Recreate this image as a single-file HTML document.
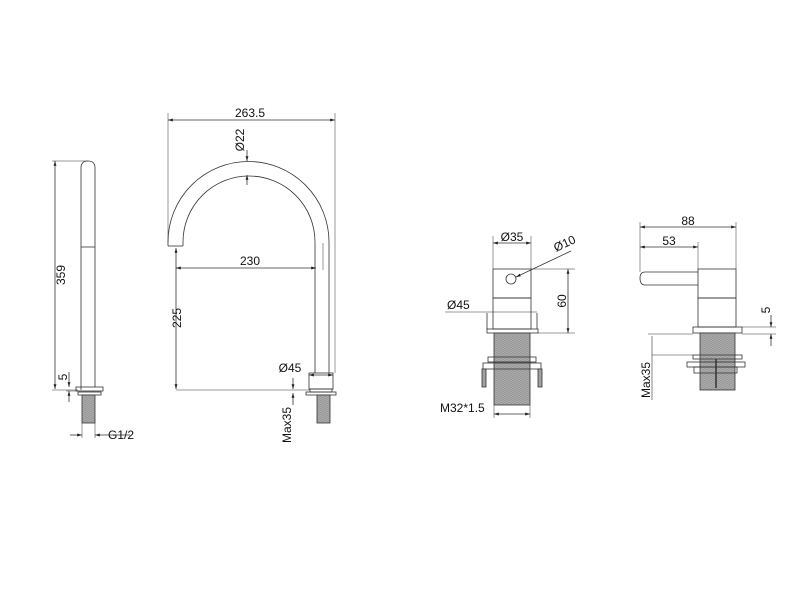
<!DOCTYPE html>
<html><head><style>body{margin:0;background:#fff}svg{display:block}text{font-family:"Liberation Sans",sans-serif;font-size:12px;fill:#111}</style></head>
<body>
<svg width="800" height="611" viewBox="0 0 800 611" xmlns="http://www.w3.org/2000/svg">
<defs>
<marker id="a" viewBox="0 0 10 10" refX="10" refY="5" markerWidth="6" markerHeight="6" orient="auto-start-reverse"><path d="M0,2 L10,5 L0,8z" fill="#222"/></marker>
<pattern id="th" width="4" height="2" patternUnits="userSpaceOnUse"><rect width="4" height="2" fill="#aaa"/><line x1="0" y1="0.5" x2="4" y2="1.5" stroke="#888" stroke-width="0.6"/></pattern>
</defs>
<g fill="none" stroke="#333" stroke-width="0.8">
<path d="M81,390 V168 Q81,161 88,161 Q95,161 95,168 V387"/>
<line x1="81" y1="247" x2="95" y2="247"/>
<rect x="76" y="387" width="27" height="4"/>
<rect x="78" y="392" width="23" height="3"/>
<rect x="82" y="395" width="13" height="28" fill="url(#th)"/>
<line x1="55" y1="161" x2="55" y2="389" marker-start="url(#a)" marker-end="url(#a)"/>
<line x1="52" y1="161" x2="88" y2="161" stroke-width="0.5"/>
<line x1="52" y1="390" x2="78" y2="390" stroke-width="0.5"/>
<line x1="69" y1="372" x2="69" y2="387" marker-end="url(#a)"/>
<line x1="69" y1="402" x2="69" y2="391" marker-end="url(#a)"/>
<line x1="66" y1="391" x2="78" y2="391" stroke-width="0.5"/>
<line x1="70" y1="435" x2="82" y2="435" marker-end="url(#a)"/>
<line x1="130" y1="435" x2="95" y2="435" marker-end="url(#a)"/>
<line x1="82" y1="423" x2="82" y2="438" stroke-width="0.5"/>
<line x1="95" y1="423" x2="95" y2="438" stroke-width="0.5"/>
<path d="M168,246 V242 A80.5,80.5 0 0 1 329,242 V373"/>
<path d="M183,246 V242 A66,66 0 0 1 315,242 V373"/>
<line x1="168" y1="246" x2="183" y2="246"/>
<rect x="309" y="373" width="24" height="16"/>
<rect x="310" y="389" width="22" height="3"/>
<rect x="306" y="392" width="30" height="3"/>
<rect x="317" y="395" width="13" height="28" fill="url(#th)"/>
<line x1="168" y1="113" x2="168" y2="242" stroke-width="0.5"/>
<line x1="335" y1="113" x2="335" y2="373" stroke-width="0.5"/>
<line x1="168" y1="120" x2="335" y2="120" marker-start="url(#a)" marker-end="url(#a)"/>
<line x1="247" y1="150" x2="247" y2="161" marker-end="url(#a)"/>
<line x1="247" y1="185" x2="247" y2="175" marker-end="url(#a)"/>
<line x1="176" y1="268" x2="316" y2="268" marker-start="url(#a)" marker-end="url(#a)"/>
<line x1="323" y1="243" x2="323" y2="270" stroke-width="0.5"/>
<line x1="176" y1="248" x2="176" y2="389" marker-start="url(#a)" marker-end="url(#a)"/>
<line x1="176" y1="390" x2="310" y2="390" stroke-width="0.5"/>
<line x1="309" y1="375" x2="333" y2="375" marker-start="url(#a)" marker-end="url(#a)"/>
<line x1="293" y1="378" x2="293" y2="389" marker-end="url(#a)"/>
<line x1="293" y1="405" x2="293" y2="393" marker-end="url(#a)"/>
<rect x="493" y="269" width="38" height="29"/>
<rect x="493" y="298" width="38" height="31"/>
<circle cx="511" cy="279" r="5"/>
<path d="M487,313 V329 M537,313 V329"/>
<rect x="487" y="329" width="51" height="4"/>
<rect x="494" y="333" width="36" height="72" fill="url(#th)"/>
<rect x="488" y="357" width="48" height="5"/>
<rect x="483" y="363" width="58" height="6"/>
<rect x="482" y="369" width="4" height="18" fill="url(#th)"/>
<rect x="538" y="369" width="4" height="18" fill="url(#th)"/>
<line x1="493" y1="236" x2="493" y2="269" stroke-width="0.5"/>
<line x1="531" y1="236" x2="531" y2="269" stroke-width="0.5"/>
<line x1="493" y1="243" x2="531" y2="243" marker-start="url(#a)" marker-end="url(#a)"/>
<line x1="571" y1="251" x2="516" y2="277" marker-end="url(#a)"/>
<line x1="531" y1="269" x2="575" y2="269" stroke-width="0.5"/>
<line x1="538" y1="333" x2="575" y2="333" stroke-width="0.5"/>
<line x1="568" y1="269" x2="568" y2="333" marker-start="url(#a)" marker-end="url(#a)"/>
<line x1="445" y1="312" x2="537" y2="312" stroke-width="0.6"/>
<line x1="494" y1="405" x2="494" y2="418" stroke-width="0.5"/>
<line x1="530" y1="405" x2="530" y2="418" stroke-width="0.5"/>
<line x1="494" y1="414" x2="530" y2="414" marker-start="url(#a)" marker-end="url(#a)"/>
<rect x="698" y="269" width="38" height="29"/>
<rect x="698" y="298" width="38" height="29"/>
<path d="M698,272 H645 Q640,272 640,278 Q640,285 645,285 H698"/>
<rect x="693" y="327" width="49" height="6"/>
<rect x="700" y="333" width="35" height="57" fill="url(#th)"/>
<rect x="693" y="355" width="49" height="4"/>
<rect x="687" y="362" width="58" height="5"/>
<rect x="694" y="367" width="43" height="6"/>
<line x1="716" y1="359" x2="716" y2="388" stroke-width="1.5"/>
<line x1="640" y1="222" x2="640" y2="272" stroke-width="0.5"/>
<line x1="736" y1="222" x2="736" y2="269" stroke-width="0.5"/>
<line x1="698" y1="242" x2="698" y2="269" stroke-width="0.5"/>
<line x1="640" y1="227" x2="736" y2="227" marker-start="url(#a)" marker-end="url(#a)"/>
<line x1="640" y1="247" x2="698" y2="247" marker-start="url(#a)" marker-end="url(#a)"/>
<line x1="742" y1="327" x2="776" y2="327" stroke-width="0.5"/>
<line x1="742" y1="334" x2="776" y2="334" stroke-width="0.5"/>
<line x1="771" y1="315" x2="771" y2="327" marker-end="url(#a)"/>
<line x1="771" y1="346" x2="771" y2="334" marker-end="url(#a)"/>
<line x1="648" y1="334" x2="693" y2="334" stroke-width="0.5"/>
<line x1="652" y1="355" x2="693" y2="355" stroke-width="0.5"/>
<line x1="652" y1="336" x2="652" y2="400" stroke-width="0.6"/>
</g>
<text x="250" y="117" text-anchor="middle">263.5</text>
<text x="250" y="265" text-anchor="middle">230</text>
<text x="290" y="372" text-anchor="middle">Ø45</text>
<text transform="translate(244,140) rotate(-90)" text-anchor="middle">Ø22</text>
<text transform="translate(65,275) rotate(-90)" text-anchor="middle">359</text>
<text transform="translate(67,377) rotate(-90)" text-anchor="middle">5</text>
<text x="108" y="439">G1/2</text>
<text transform="translate(181,318) rotate(-90)" text-anchor="middle">225</text>
<text transform="translate(291,425) rotate(-90)" text-anchor="middle">Max35</text>
<text x="512" y="241" text-anchor="middle">Ø35</text>
<text transform="translate(556,252) rotate(-25)">Ø10</text>
<text transform="translate(566,301) rotate(-90)" text-anchor="middle">60</text>
<text x="447" y="309">Ø45</text>
<text x="440" y="412">M32*1.5</text>
<text x="688" y="225" text-anchor="middle">88</text>
<text x="669" y="245" text-anchor="middle">53</text>
<text transform="translate(770,310) rotate(-90)" text-anchor="middle">5</text>
<text transform="translate(650,380) rotate(-90)" text-anchor="middle">Max35</text>
</svg>
</body></html>
